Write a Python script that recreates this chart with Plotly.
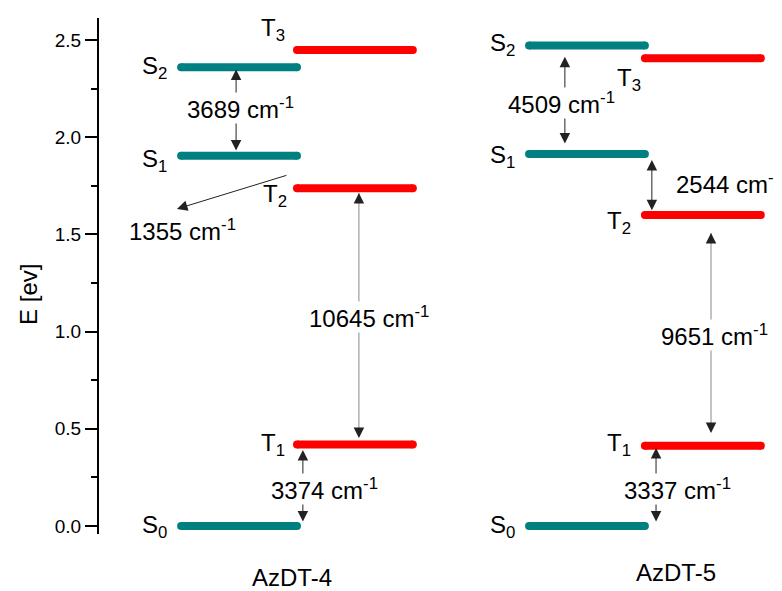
import plotly.graph_objects as go

# ---------------- data ----------------
molecules = ["AzDT-4", "AzDT-5"]
S0 = [0.0, 0.0]
S1 = [1.905, 1.914]
S2 = [2.360, 2.471]
T1 = [0.419, 0.413]
T2 = [1.737, 1.600]
T3 = [2.449, 2.406]

gaps_azdt4 = ["3689", "1355", "10645", "3374"]   # cm^-1
gaps_azdt5 = ["4509", "2544", "9651", "3337"]   # cm^-1

y_ticks = [0.0, 0.5, 1.0, 1.5, 2.0, 2.5]

# ---------------- style ----------------
TEAL = "#008080"
RED = "#ff0000"
FONT = "Arial, Liberation Sans, sans-serif"
BAR_W = 0.333          # bar length in x units (one molecule = 1 unit)
LW = 8
TXT = 24

fig = go.Figure()

def level(xc, lo, hi, y, color):
    fig.add_trace(go.Scatter(
        x=[lo + xc, hi + xc], y=[y, y], mode="lines+markers",
        line=dict(color=color, width=LW),
        marker=dict(color=color, size=LW, line=dict(width=0)),
        hoverinfo="skip", showlegend=False, cliponaxis=False))

for m in range(len(molecules)):
    for lv in (S0, S1, S2):
        level(m, -BAR_W, 0.0, lv[m], TEAL)
    for lv in (T1, T2, T3):
        level(m, 0.0, BAR_W, lv[m], RED)

ann = []

def txt(x, y, t, size=TXT, xanchor="center", yanchor="middle", bg=None, yshift=0, yref="y"):
    d = dict(x=x, y=y, xref="x", yref=yref, text=t, showarrow=False,
             font=dict(family=FONT, size=size, color="black"),
             xanchor=xanchor, yanchor=yanchor, yshift=yshift)
    if bg:
        d["bgcolor"] = bg
        d["borderpad"] = 0
    ann.append(d)

def arrow(x0, y0, x1, y1, both=True, color="#222", head=2):
    # head at (x1, y1); tail (x0, y0)
    d = dict(x=x1, y=y1, ax=x0, ay=y0, xref="x", yref="y", axref="x", ayref="y",
             text="", showarrow=True, arrowhead=head, arrowsize=2.1, arrowwidth=1,
             arrowcolor=color, standoff=0, startstandoff=0)
    if both:
        d["arrowside"] = "end+start"
        d["startarrowhead"] = head
        d["startarrowsize"] = 2.1
    ann.append(d)

def long_arrow(x, ylo, yhi):
    # thin grey shaft with black heads at both ends
    arrow(x, ylo, x, yhi, both=False, color="#8a8a8a", head=0)
    arrow(x, yhi - 0.06, x, yhi, both=False)
    arrow(x, ylo + 0.06, x, ylo, both=False)

def cm(v):
    return v + " cm<sup>-1</sup>"

# level labels
def lab(x, y, t, dy=0.0):
    txt(x, y + dy, t, xanchor="right", yanchor="middle", yshift=-3)

# AzDT-4 (x centre 0)
m = 0
lab(m - BAR_W - 0.035, S0[m], "S<sub>0</sub>", 0.013)
lab(m - BAR_W - 0.035, S1[m], "S<sub>1</sub>", -0.009)
lab(m - BAR_W - 0.035, S2[m], "S<sub>2</sub>", 0.014)
lab(m - 0.028, T1[m], "T<sub>1</sub>", 0.014)
lab(m - 0.022, T2[m], "T<sub>2</sub>", -0.022)
lab(m - 0.030, T3[m], "T<sub>3</sub>", 0.121)

arrow(m - 0.175, S1[m] + 0.019, m - 0.175, S2[m] - 0.012)
txt(m - 0.161, 2.150, cm(gaps_azdt4[0]), bg="white")
arrow(m - 0.026, (S1[m] + T2[m]) / 2 - 0.015, m - 0.345, 1.631, both=False)
txt(m - 0.489, 1.523, cm(gaps_azdt4[1]), xanchor="left")
long_arrow(m + 0.178, T1[m] + 0.034, T2[m] - 0.024)
txt(m + 0.208, 1.075, cm(gaps_azdt4[2]), bg="white")
arrow(m + 0.017, S0[m] + 0.015, m + 0.017, T1[m] - 0.028)
txt(m + 0.080, 0.190, cm(gaps_azdt4[3]), bg="white")

# AzDT-5 (x centre 1)
m = 1
lab(m - BAR_W - 0.035, S0[m], "S<sub>0</sub>", 0.013)
lab(m - BAR_W - 0.035, S1[m], "S<sub>1</sub>", 0.0)
lab(m - BAR_W - 0.035, S2[m], "S<sub>2</sub>", 0.022)
lab(m - 0.035, T1[m], "T<sub>1</sub>", 0.022)
lab(m - 0.035, T2[m], "T<sub>2</sub>", -0.023)
lab(m - 0.006, T3[m], "T<sub>3</sub>", -0.094)

arrow(m - 0.230, S1[m] + 0.046, m - 0.230, S2[m] - 0.057)
txt(m - 0.241, 2.178, cm(gaps_azdt5[0]), bg="white")
arrow(m + 0.020, T2[m] + 0.017, m + 0.020, S1[m] - 0.031)
txt(m + 0.083, 1.762, cm(gaps_azdt5[1]), xanchor="left")
long_arrow(m + 0.190, T1[m] + 0.065, T2[m] - 0.093)
txt(m + 0.201, 0.982, cm(gaps_azdt5[2]), bg="white")
arrow(m + 0.032, S0[m] + 0.015, m + 0.032, T1[m] - 0.012)
txt(m + 0.095, 0.190, cm(gaps_azdt5[3]), bg="white")

# molecule names under the diagram (paper y, below the plot area)
txt(0 - 0.014, -0.084, molecules[0], yref="paper")
txt(1 + 0.089, -0.075, molecules[1], yref="paper")

# axis title
ann.append(dict(x=-0.103, y=0.465, xref="paper", yref="paper", text="E [ev]",
                showarrow=False, textangle=-90,
                font=dict(family=FONT, size=TXT, color="black"),
                xanchor="center", yanchor="middle"))

fig.update_layout(
    width=782, height=591,
    margin=dict(l=91, r=0, t=10, b=65),
    paper_bgcolor="white", plot_bgcolor="white",
    annotations=ann,
    xaxis=dict(visible=False, range=[-0.569, 1.417], fixedrange=True),
    yaxis=dict(range=[-0.041, 2.613], showline=True, linecolor="black", linewidth=2,
               ticks="outside", ticklen=12, tickwidth=1.5, tickcolor="black",
               tickvals=y_ticks, ticktext=[f"{v:.1f}" for v in y_ticks],
               tickfont=dict(family=FONT, size=19, color="black"),
               minor=dict(ticks="outside", ticklen=6, tickwidth=1.5, tickcolor="black",
                          dtick=0.25, showgrid=False),
               showgrid=False, zeroline=False, fixedrange=True),
)

fig.write_html("out.html")
